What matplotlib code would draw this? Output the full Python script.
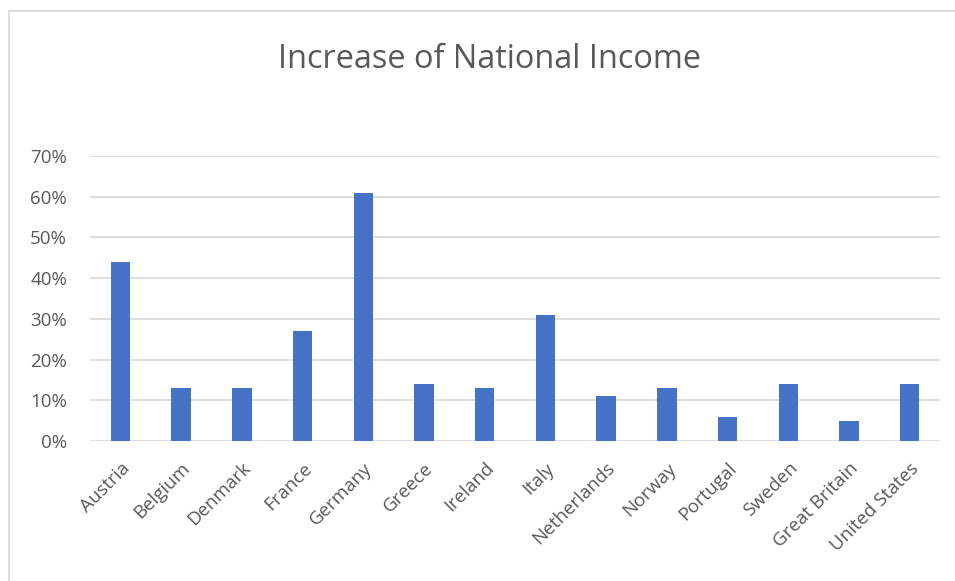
import matplotlib.pyplot as plt
from matplotlib.patches import Rectangle
from matplotlib.ticker import PercentFormatter

countries = ['Austria', 'Belgium', 'Denmark', 'France', 'Germany', 'Greece', 'Ireland',
             'Italy', 'Netherlands', 'Norway', 'Portugal', 'Sweden', 'Great Britain',
             'United States']
increase = [0.44, 0.13, 0.13, 0.27, 0.61, 0.14, 0.13, 0.31, 0.11, 0.13, 0.06, 0.14, 0.05, 0.14]

plt.rcParams['font.family'] = ['Open Sans', 'DejaVu Sans']
text_color = '#595959'

fig = plt.figure(figsize=(9.55, 5.81), dpi=100)
ax = fig.add_axes([90 / 955, 1 - 441 / 581, 850 / 955, 285 / 581])

# chart frame (cropped at right and bottom)
fig.patches.append(Rectangle((9 / 955, -0.05), 1.1, 1 - 11 / 581 + 0.05,
                             transform=fig.transFigure, fill=False,
                             edgecolor='#d9d9d9', linewidth=1.2))

x = range(len(countries))
ax.bar(x, increase, width=0.32, color='#4472C4', zorder=3)

ax.set_xlim(-0.5, len(countries) - 0.5)
ax.set_ylim(0, 0.70)
ax.set_yticks([i / 10 for i in range(8)])
ax.yaxis.set_major_formatter(PercentFormatter(1.0, decimals=0))
ax.grid(axis='y', color='#d9d9d9', linewidth=1.2, zorder=0)
for s in ax.spines.values():
    s.set_visible(False)
ax.tick_params(length=0, colors=text_color, labelsize=13.5)
ax.tick_params(axis='y', pad=16.5)
ax.set_xticks(list(x))
ax.set_xticklabels(countries, rotation=45, ha='right', rotation_mode='anchor')
ax.tick_params(axis='x', pad=13)

fig.text(489 / 955, 1 - 59 / 581, 'Increase of National Income', ha='center', va='center',
         fontsize=23.4, color=text_color)

fig.savefig('out.png', dpi=100, facecolor='white')
